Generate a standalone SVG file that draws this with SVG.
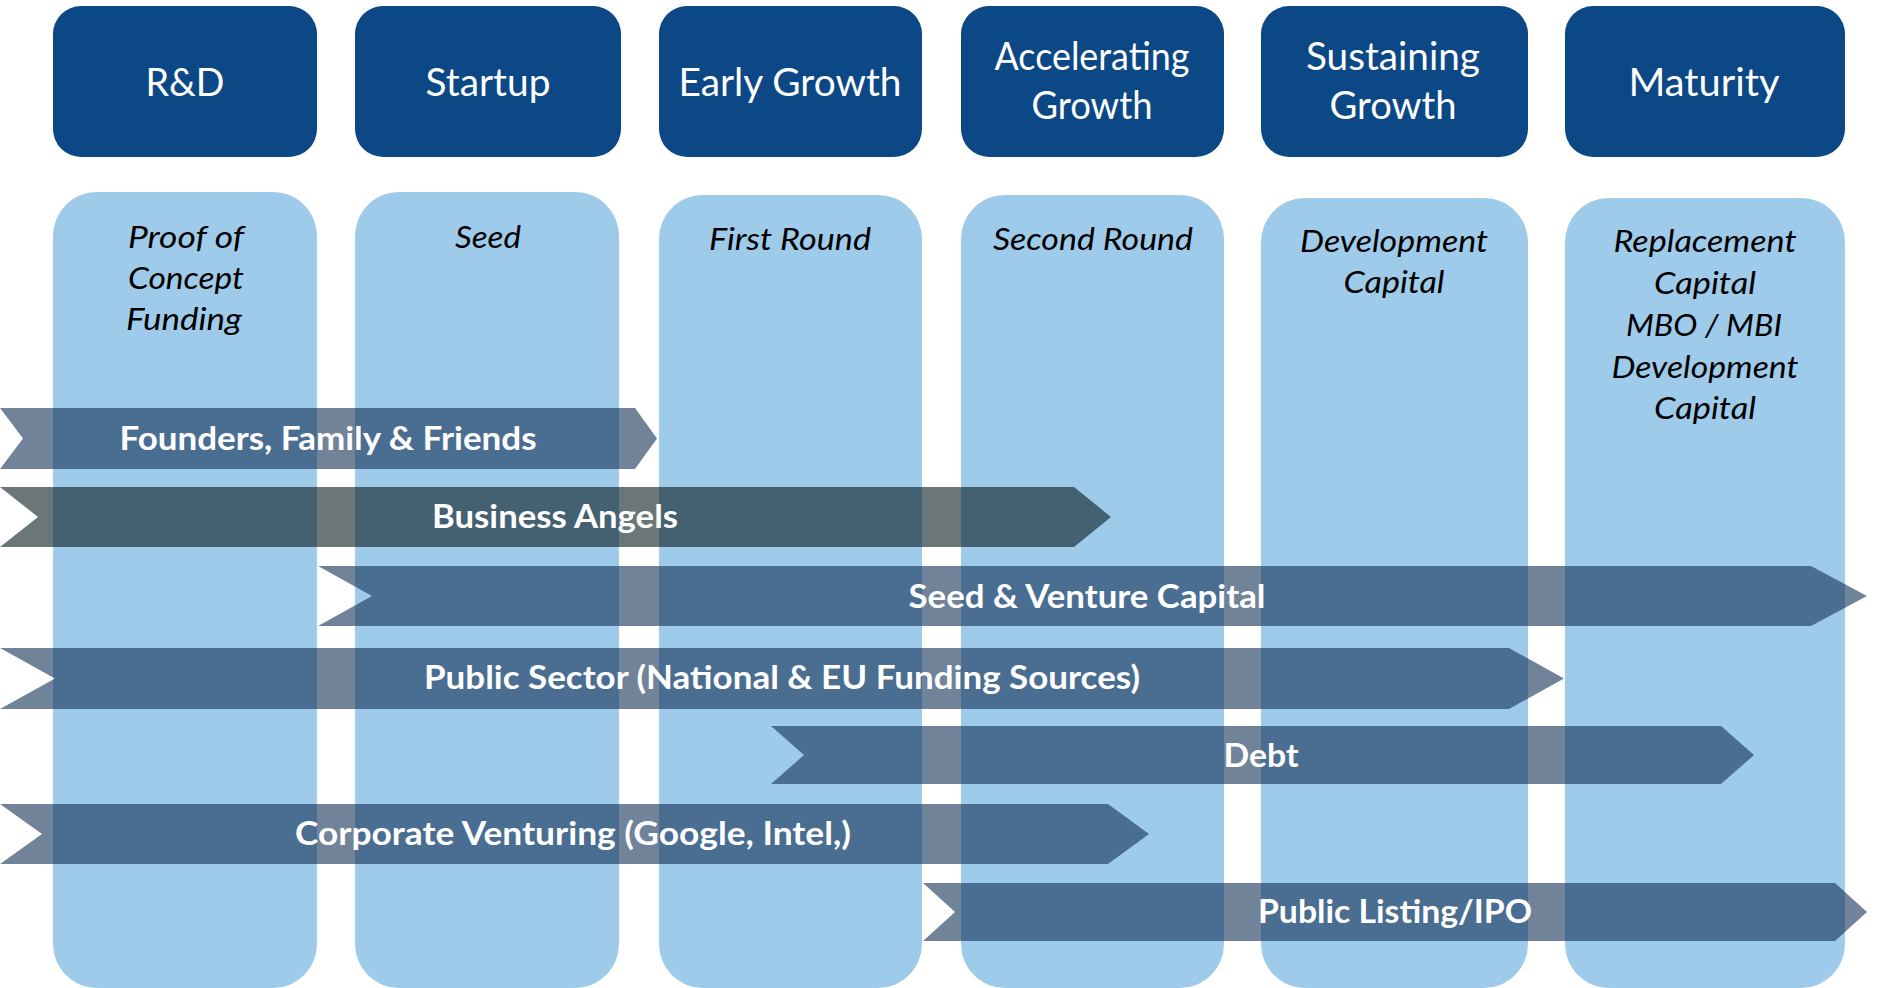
<svg xmlns="http://www.w3.org/2000/svg" width="1878" height="988" viewBox="0 0 1878 988">
  <style>
    text { }
    .stage { fill: #0b4885; }
    .stage-text { font-family: Lato, "Open Sans", "Liberation Sans", sans-serif; font-size: 39px; fill: #ffffff; text-anchor: middle; }
    .round { fill: #9fcbea; }
    .round-text { font-family: Lato, "Open Sans", "Liberation Sans", sans-serif; font-style: italic; font-size: 31px; fill: #000000; text-anchor: middle; }
    .source { fill: #123055; fill-opacity: 0.6; }
    .source-dark { fill: #081b20; fill-opacity: 0.6; }
    .source-text { font-family: Lato, "Open Sans", "Liberation Sans", sans-serif; font-weight: bold; font-size: 32px; fill: #ffffff; text-anchor: middle; }
  </style>

  <rect width="1878" height="988" fill="#ffffff"/>

  <!-- Stage headers -->
  <g id="stage-rd">
    <rect class="stage" x="53" y="6" width="264" height="151" rx="28"/>
    <text class="stage-text" x="185" y="96" textLength="79" lengthAdjust="spacingAndGlyphs">R&amp;D</text>
  </g>
  <g id="stage-startup">
    <rect class="stage" x="355" y="6" width="266" height="151" rx="28"/>
    <text class="stage-text" x="488" y="96" textLength="125" lengthAdjust="spacingAndGlyphs">Startup</text>
  </g>
  <g id="stage-early-growth">
    <rect class="stage" x="659" y="6" width="263" height="151" rx="28"/>
    <text class="stage-text" x="790" y="96" textLength="223" lengthAdjust="spacingAndGlyphs">Early Growth</text>
  </g>
  <g id="stage-accelerating-growth">
    <rect class="stage" x="961" y="6" width="263" height="151" rx="28"/>
    <text class="stage-text" x="1092" y="70" textLength="195" lengthAdjust="spacingAndGlyphs">Accelerating</text>
    <text class="stage-text" x="1092" y="119" textLength="121" lengthAdjust="spacingAndGlyphs">Growth</text>
  </g>
  <g id="stage-sustaining-growth">
    <rect class="stage" x="1261" y="6" width="267" height="151" rx="28"/>
    <text class="stage-text" x="1393" y="70" textLength="174" lengthAdjust="spacingAndGlyphs">Sustaining</text>
    <text class="stage-text" x="1393" y="119" textLength="127" lengthAdjust="spacingAndGlyphs">Growth</text>
  </g>
  <g id="stage-maturity">
    <rect class="stage" x="1565" y="6" width="280" height="151" rx="28"/>
    <text class="stage-text" x="1704" y="96" textLength="151" lengthAdjust="spacingAndGlyphs">Maturity</text>
  </g>

  <!-- Financing rounds per stage -->
  <g id="round-proof-of-concept">
    <rect class="round" x="53" y="192" width="264" height="796" rx="44"/>
    <text class="round-text" x="186" y="248" textLength="116" lengthAdjust="spacingAndGlyphs">Proof of</text>
    <text class="round-text" x="186" y="289" textLength="116" lengthAdjust="spacingAndGlyphs">Concept</text>
    <text class="round-text" x="184" y="330" textLength="116" lengthAdjust="spacingAndGlyphs">Funding</text>
  </g>
  <g id="round-seed">
    <rect class="round" x="355" y="192" width="264" height="796" rx="44"/>
    <text class="round-text" x="488" y="248" textLength="66" lengthAdjust="spacingAndGlyphs">Seed</text>
  </g>
  <g id="round-first">
    <rect class="round" x="659" y="195" width="263" height="793" rx="44"/>
    <text class="round-text" x="790" y="250" textLength="162" lengthAdjust="spacingAndGlyphs">First Round</text>
  </g>
  <g id="round-second">
    <rect class="round" x="961" y="195" width="263" height="793" rx="44"/>
    <text class="round-text" x="1093" y="250" textLength="200" lengthAdjust="spacingAndGlyphs">Second Round</text>
  </g>
  <g id="round-development">
    <rect class="round" x="1261" y="198" width="267" height="790" rx="44"/>
    <text class="round-text" x="1394" y="252" textLength="188" lengthAdjust="spacingAndGlyphs">Development</text>
    <text class="round-text" x="1394" y="293" textLength="101" lengthAdjust="spacingAndGlyphs">Capital</text>
  </g>
  <g id="round-replacement">
    <rect class="round" x="1565" y="198" width="280" height="790" rx="44"/>
    <text class="round-text" x="1705" y="252" textLength="183" lengthAdjust="spacingAndGlyphs">Replacement</text>
    <text class="round-text" x="1705" y="294" textLength="102" lengthAdjust="spacingAndGlyphs">Capital</text>
    <text class="round-text" x="1704" y="336" textLength="156" lengthAdjust="spacingAndGlyphs">MBO / MBI</text>
    <text class="round-text" x="1705" y="378" textLength="187" lengthAdjust="spacingAndGlyphs">Development</text>
    <text class="round-text" x="1705" y="419" textLength="102" lengthAdjust="spacingAndGlyphs">Capital</text>
  </g>

  <!-- Funding sources spanning stages -->
  <g id="connectors">
    <g id="source-fff">
      <path class="source" d="M0,408 L635,408 L657,438.5 L635,469 L0,469 L23,438.5 Z"/>
      <text class="source-text" x="328" y="450" textLength="417" lengthAdjust="spacingAndGlyphs">Founders, Family &amp; Friends</text>
    </g>
    <g id="source-angels">
      <path class="source-dark" d="M0,487 L1074,487 L1111,517 L1074,547 L0,547 L38,517 Z"/>
      <text class="source-text" x="555" y="528" textLength="246" lengthAdjust="spacingAndGlyphs">Business Angels</text>
    </g>
    <g id="source-vc">
      <path class="source" d="M318,566 L1811,566 L1867,596 L1811,626 L318,626 L372,596 Z"/>
      <text class="source-text" x="1087" y="608" textLength="357" lengthAdjust="spacingAndGlyphs">Seed &amp; Venture Capital</text>
    </g>
    <g id="source-public">
      <path class="source" d="M0,648 L1509,648 L1564,678.5 L1509,709 L0,709 L55,678.5 Z"/>
      <text class="source-text" x="782" y="689" textLength="716" lengthAdjust="spacingAndGlyphs">Public Sector (National &amp; EU Funding Sources)</text>
    </g>
    <g id="source-debt">
      <path class="source" d="M771,726 L1721,726 L1754,755 L1721,784 L771,784 L804,755 Z"/>
      <text class="source-text" x="1261" y="767" textLength="75" lengthAdjust="spacingAndGlyphs">Debt</text>
    </g>
    <g id="source-corporate">
      <path class="source" d="M0,804 L1108,804 L1149,834 L1108,864 L0,864 L42,834 Z"/>
      <text class="source-text" x="573" y="845" textLength="556" lengthAdjust="spacingAndGlyphs">Corporate Venturing (Google, Intel,)</text>
    </g>
    <g id="source-ipo">
      <path class="source" d="M923,883 L1835,883 L1867,912 L1835,941 L923,941 L955,912 Z"/>
      <text class="source-text" x="1395" y="923" textLength="274" lengthAdjust="spacingAndGlyphs">Public Listing/IPO</text>
    </g>
  </g>
</svg>
